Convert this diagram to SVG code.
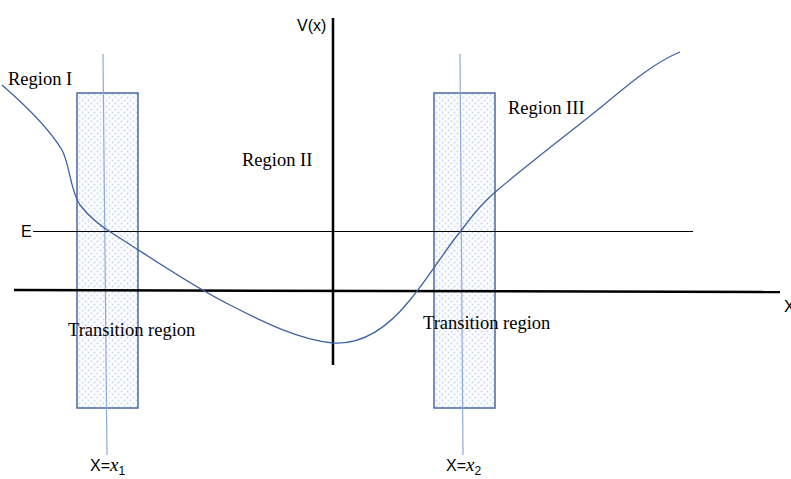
<svg xmlns="http://www.w3.org/2000/svg" width="791" height="479" viewBox="0 0 791 479">
<style>
.box{fill:url(#dots);stroke:#4a69a6;stroke-width:1.5}
.thin{stroke:#8eaadb;stroke-width:1.2;fill:none}
.axis{stroke:#000;stroke-width:2.5;fill:none}
.eline{stroke:#000;stroke-width:1;fill:none}
.curve{stroke:#3d62a3;stroke-width:1.3;fill:none}
.serif{font-family:"Liberation Serif",serif;font-size:18.5px;fill:#000}
.sans{font-family:"Liberation Sans",Arial,sans-serif;font-size:16px;fill:#000}
.it{font-family:"Liberation Serif",serif;font-style:italic;font-size:19px}
</style>
<defs>
<pattern id="dots" width="6" height="6" patternUnits="userSpaceOnUse">
<rect width="6" height="6" fill="#fbfcfe"/>
<circle cx="1.5" cy="1.5" r="0.9" fill="#c9d7ef"/>
<circle cx="4.5" cy="4.5" r="0.9" fill="#c9d7ef"/>
</pattern>
</defs>
<g id="transition-left"><rect class="box" x="77" y="93" width="61" height="315"/></g>
<g id="transition-right"><rect class="box" x="434" y="93" width="61" height="315"/></g>
<g id="connectors">
<line class="thin" x1="103" y1="54" x2="107" y2="455"/>
<line class="thin" x1="460" y1="54" x2="463" y2="455"/>
<line class="axis" x1="14" y1="290" x2="780" y2="292"/>
<line class="axis" x1="333" y1="18" x2="333" y2="365"/>
<line class="eline" x1="33" y1="231.5" x2="693" y2="231.5"/>
<path class="curve" d="M2,85 C25,105 50,130 62,150 C70,165 70,190 80,205 C90,218 100,226 115,235 C150,257 190,285 230,305 C265,323 300,340 333,343 C365,345 390,325 410,300 C430,276 445,250 460,232 C475,212 485,200 500,188 C530,163 560,140 600,108 C630,83 655,62 680,52"/>
</g>
<g id="labels">
<text class="sans" x="297" y="31">V(x)</text>
<text class="sans" x="21" y="237">E</text>
<text class="sans" x="784" y="312">X</text>
<text class="serif" x="8" y="85">Region I</text>
<text class="serif" x="242" y="166">Region II</text>
<text class="serif" x="508" y="114">Region III</text>
<text class="serif" x="68" y="336">Transition region</text>
<text class="serif" x="423" y="329">Transition region</text>
<text class="sans" x="90" y="471">X=<tspan class="it">x</tspan><tspan font-size="12" dy="4">1</tspan></text>
<text class="sans" x="446" y="471">X=<tspan class="it">x</tspan><tspan font-size="12" dy="4">2</tspan></text>
</g>
</svg>
